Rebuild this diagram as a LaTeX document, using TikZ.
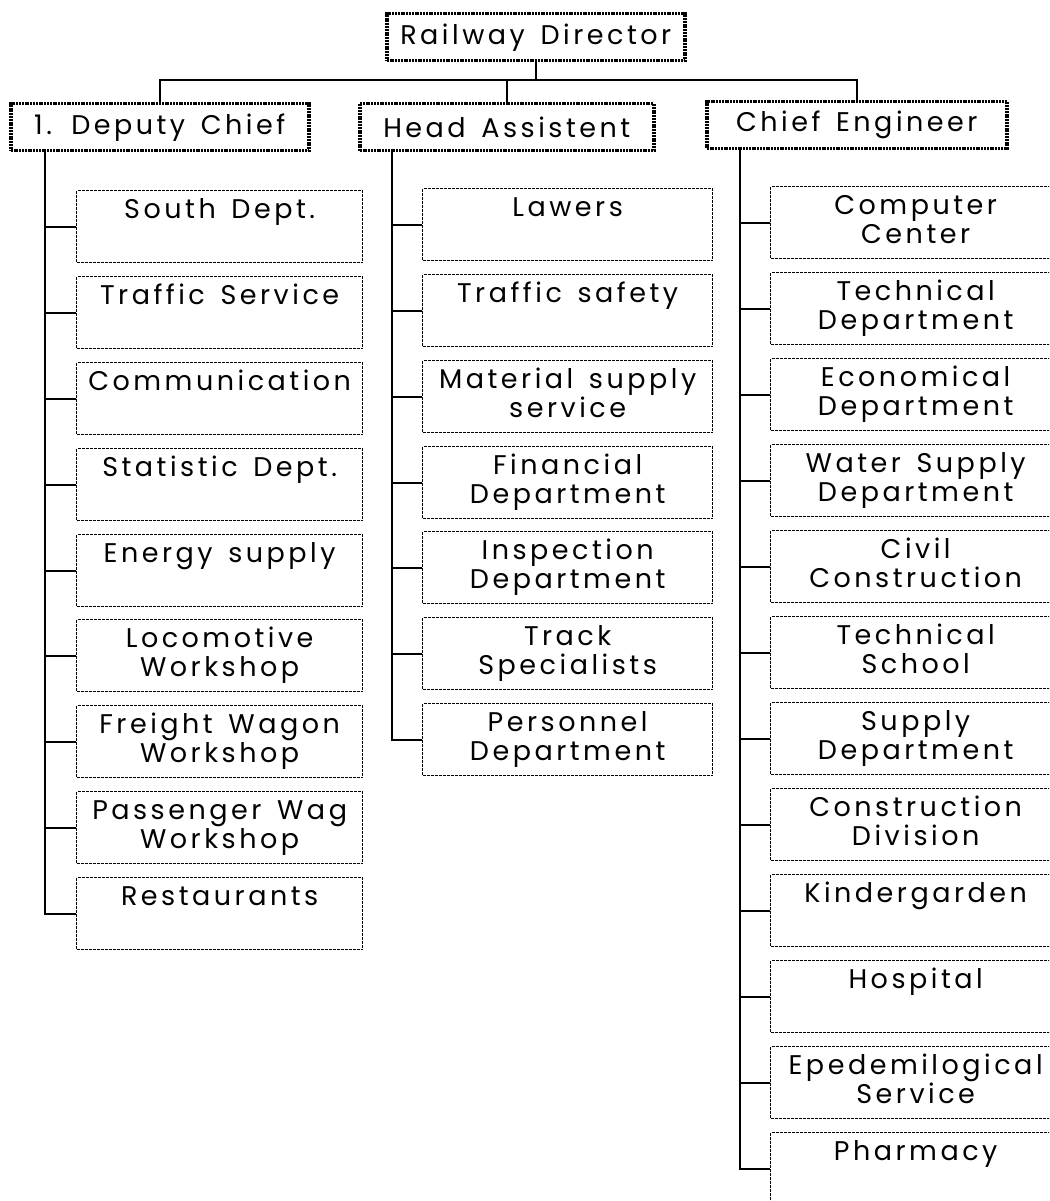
\documentclass[tikz,border=0pt]{standalone}
\usepackage{fontspec}
\setmainfont{Poppins}[LetterSpace=13]

\tikzset{
	every node/.style={font=\fontsize{27}{29}\selectfont,
		execute at begin node={\spaceskip=0.58em\relax}},
	chief/.style={draw, line width=3.5pt, dash pattern=on 2pt off 0.8pt,
		anchor=north west, inner sep=0pt, minimum width=#1, minimum height=47pt},
	unit/.style={draw, line width=1.3pt, dash pattern=on 3pt off 1pt,
		anchor=north west, inner sep=0pt, text width=#1, align=center,
		text height=28pt, text depth=44pt},
	wire/.style={line width=1.8pt}
}

\begin{document}
\begin{tikzpicture}[x=1pt,y=-1pt]
	\useasboundingbox (0,0) rectangle (1049,1201);
	\clip (0,0) rectangle (1049,1201);
	
	% head and the three branches
	\node[chief=298pt] (rd) at (385,12)  {Railway Director};
	\node[chief=298pt] (dc) at (9,102)   {1. Deputy Chief};
	\node[chief=294pt] (ha) at (358,102) {Head Assistent};
	\node[chief=300pt] (ce) at (705,100) {Chief Engineer};
	
	\coordinate (bus) at (0,80);
	\draw[wire] (rd.south) -- (rd.south |- bus);
	\draw[wire] (dc.north) -- (dc.north |- bus) -- (ce.north |- bus) -- (ce.north);
	\draw[wire] (ha.north) -- (ha.north |- bus);
	
	% first column
	\node[unit=286pt] (d1) at (76,190) {South Dept.\\~};
	\node[unit=286pt] (d2) at (76,276) {Traffic Service\\~};
	\node[unit=286pt] (d3) at (76,362) {Communication\\~};
	\node[unit=286pt] (d4) at (76,448) {Statistic Dept.\\~};
	\node[unit=286pt] (d5) at (76,534) {Energy supply\\~};
	\node[unit=286pt] (d6) at (76,619) {Locomotive\\Workshop};
	\node[unit=286pt] (d7) at (76,705) {Freight Wagon\\Workshop};
	\node[unit=286pt] (d8) at (76,791) {Passenger Wag\\Workshop};
	\node[unit=286pt] (d9) at (76,877) {Restaurants\\~};
	
	\coordinate (s1) at (45,0);
	\draw[wire] (dc.south -| s1) |- (d9.west);
	\foreach \i in {1,...,8}
		\draw[wire] (d\i.west) -- (d\i.west -| s1);
	
	% second column
	\node[unit=290pt] (h1) at (422,188) {Lawers\\~};
	\node[unit=290pt] (h2) at (422,274) {Traffic safety\\~};
	\node[unit=290pt] (h3) at (422,360) {Material supply\\service};
	\node[unit=290pt] (h4) at (422,446) {Financial\\Department};
	\node[unit=290pt] (h5) at (422,531) {Inspection\\Department};
	\node[unit=290pt] (h6) at (422,617) {Track\\Specialists};
	\node[unit=290pt] (h7) at (422,703) {Personnel\\Department};
	
	\coordinate (s2) at (392,0);
	\draw[wire] (ha.south -| s2) |- (h7.west);
	\foreach \i in {1,...,6}
		\draw[wire] (h\i.west) -- (h\i.west -| s2);
	
	% third column
	\node[unit=290pt] (e1)  at (770,186)  {Computer\\Center};
	\node[unit=290pt] (e2)  at (770,272)  {Technical\\Department};
	\node[unit=290pt] (e3)  at (770,358)  {Economical\\Department};
	\node[unit=290pt] (e4)  at (770,444)  {Water Supply\\Department};
	\node[unit=290pt] (e5)  at (770,530)  {Civil\\Construction};
	\node[unit=290pt] (e6)  at (770,616)  {Technical\\School};
	\node[unit=290pt] (e7)  at (770,702)  {Supply\\Department};
	\node[unit=290pt] (e8)  at (770,788)  {Construction\\Division};
	\node[unit=290pt] (e9)  at (770,874)  {Kindergarden\\~};
	\node[unit=290pt] (e10) at (770,960)  {Hospital\\~};
	\node[unit=290pt] (e11) at (770,1046) {Epedemilogical\\Service};
	\node[unit=290pt] (e12) at (770,1132) {Pharmacy\\~};
	
	\coordinate (s3) at (740,0);
	\draw[wire] (ce.south -| s3) |- (e12.west);
	\foreach \i in {1,...,11}
		\draw[wire] (e\i.west) -- (e\i.west -| s3);
\end{tikzpicture}
\end{document}
